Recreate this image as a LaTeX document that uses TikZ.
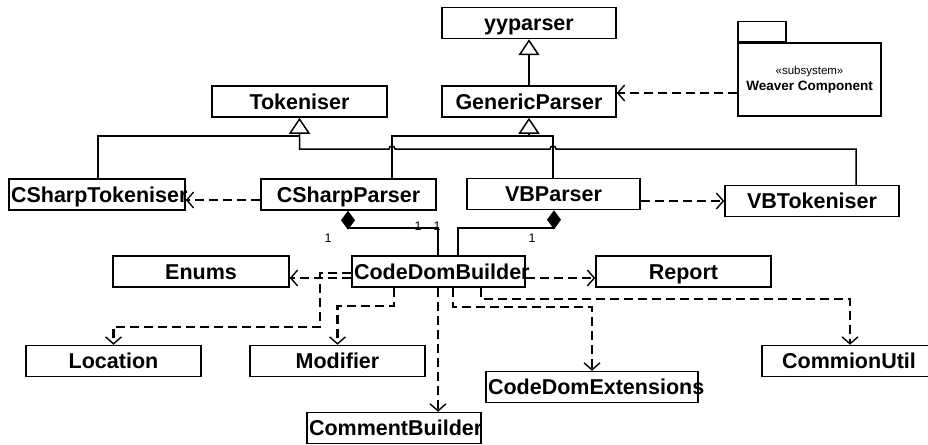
\documentclass[tikz,border=0pt]{standalone}
\usepackage{fontspec}
\setmainfont{Liberation Sans}
\usetikzlibrary{arrows.meta,calc}
\hyphenpenalty=10000
\begin{document}
\begin{tikzpicture}[x=1pt,y=-1pt,
  cls/.style={draw, line width=1.5pt, minimum height=31pt, inner xsep=2pt, inner ysep=0pt,
    align=center, text width=#1, text height=15pt, text depth=0pt,
    font=\fontsize{21.5}{25}\selectfont\bfseries},
  assoc/.style={line width=1.5pt},
  gen/.style={line width=1.5pt, -{Triangle[fill=white,length=16pt,width=21pt,line width=1.5pt]}},
  dep/.style={line width=2.4pt, dash pattern=on 9pt off 5pt,
    -{Straight Barb[length=7pt,width=16pt,line width=1.4pt]}},
  comp/.style={line width=1.5pt, {Diamond[length=19pt,width=14pt]}-},
  mult/.style={font=\fontsize{12.5}{14}\selectfont, inner sep=0pt}]
\useasboundingbox (0,0) rectangle (928,444);

% classes
\node[cls=170pt] (yy)  at (529,23)    {yyparser};
\node[cls=170pt] (gp)  at (529,101.5) {GenericParser};
\node[cls=171pt] (tok) at (299.5,101.5) {Tokeniser};
\node[cls=172pt] (cst) at (97,194.5)  {CSharpTokeniser};
\node[cls=171pt] (csp) at (348.5,194.5) {CSharpParser};
\node[cls=169pt] (vbp) at (553.5,194) {VBParser};
\node[cls=170pt] (vbt) at (812,201)   {VBTokeniser};
\node[cls=172pt] (enm) at (201,271.5) {Enums};
\node[cls=169pt] (cdb) at (438.5,271.5) {CodeDomBuilder};
\node[cls=171pt] (rep) at (683.5,271.5) {Report};
\node[cls=171pt] (loc) at (113.5,361) {Location};
\node[cls=171pt] (mdf) at (337.5,361) {Modifier};
\node[cls=170pt] (cmb) at (394,428)   {CommentBuilder};
\node[cls=208pt] (cde) at (592,387)   {CodeDomExtensions};
\node[cls=170pt] (cu)  at (849,361)   {CommionUtil};

% subsystem package
\node[draw, line width=1.5pt, minimum width=143pt, minimum height=73pt, inner sep=0pt, align=center]
  (pkg) at (809.5,79.5)
  {{\fontsize{11.5}{13}\selectfont «subsystem»}\\[4pt]{\fontsize{13.5}{15}\selectfont\bfseries Weaver Component}};
\node[draw, line width=1.5pt, minimum width=48pt, minimum height=20pt, inner sep=0pt, anchor=south west]
  (pkgtab) at (pkg.north west) {};

% generalisations
\draw[gen] (gp.north) -- (yy.south);
\draw[assoc] (cst.north -| 98,0) -- (98,136) -- (tok.south |- 0,136);
\draw[gen] (vbt.north -| 856,0) -- (856,149) -- (556,149) arc (0:-180:3)
  -- (395,149) arc (0:-180:3) -- (tok.south |- 0,149) -- (tok.south);
\draw[assoc] (csp.north -| 392,0) -- (392,136) -- (553,136) -- (vbp.north -| 553,0);
\draw[gen] (gp.south |- 0,136) -- (gp.south);

% dependencies
\draw[dep] (pkg.west |- 0,93) -- (gp.east |- 0,93);
\draw[dep] (csp.west |- 0,200) -- (cst.east |- 0,200);
\draw[dep] (vbp.east |- 0,201) -- (vbt.west |- 0,201);
\draw[dep] (cdb.west |- 0,278) -- (enm.east |- 0,278);
\draw[dep] (cdb.west |- 0,273) -- (320,273) -- (320,327) -| (loc.north);
\draw[dep] (cdb.east |- 0,278) -- (rep.west |- 0,278);
\draw[dep] (cdb.south -| 394,0) -- (394,306) -| (mdf.north);
\draw[dep] (cdb.south -| 438,0) -- (cmb.north -| 438,0);
\draw[dep] (cdb.south -| 453,0) -- (453,307) -| (cde.north);
\draw[dep] (cdb.south -| 481,0) -- (481,299) -| (cu.north -| 850,0);

% compositions
\draw[comp] (csp.south -| 348,0) -- (348,228) -- (438,228) -- (cdb.north -| 438,0);
\draw[comp] (vbp.south -| 554,0) -- (554,228) -- (458,228) -- (cdb.north -| 458,0);

% multiplicities
\node[mult] (m1) at (328,238) {1};
\node[mult] (m2) at (418,226) {1};
\node[mult] (m3) at (437,226) {1};
\node[mult] (m4) at (532,238) {1};
\end{tikzpicture}
\end{document}
